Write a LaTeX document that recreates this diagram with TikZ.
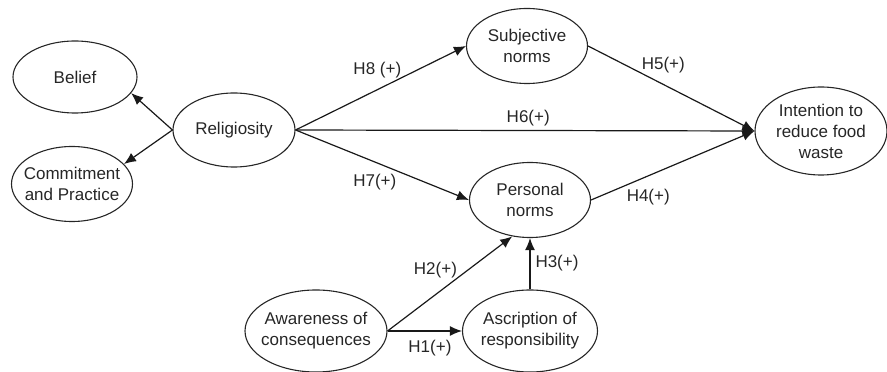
\documentclass[tikz,border=0pt]{standalone}
\usepackage{fontspec}
\setmainfont{Liberation Sans}
\usepackage{tikz}
\usetikzlibrary{arrows.meta,positioning,shapes.geometric}

\begin{document}
\begin{tikzpicture}[x=1pt,y=1pt,
  var/.style={ellipse,draw=black!85,line width=1.1pt,inner xsep=-9pt,inner ysep=0pt,
    minimum width=121pt,minimum height=75pt,align=center,text=black!85,
    font=\fontsize{17}{21}\selectfont},
  link/.style={-{Latex[length=12pt,width=10pt]},line width=1.2pt,draw=black!90},
  hyp/.style={font=\fontsize{17}{20}\selectfont,text=black!85,inner sep=1pt}
]
\useasboundingbox (0,0) rectangle (887,372);
\node[var,minimum width=124pt,minimum height=72pt] (belief) at (75,295) {Belief};
\node[var] (commit) at (72,188) {Commitment\\and Practice};
\node[var,minimum width=122pt,minimum height=74pt] (relig) at (234,242) {Religiosity};
\node[var] (subj) at (527,326) {Subjective\\norms};
\node[var] (pers) at (530,172) {Personal\\norms};
\node[var,minimum width=132pt,minimum height=88pt] (intent) at (821,241) {Intention to\\reduce food\\waste};
\node[var,minimum width=142pt,minimum height=82pt] (aware) at (316,41) {Awareness of\\consequences};
\node[var,minimum width=135pt,minimum height=82pt] (ascr) at (530,41) {Ascription of\\responsibility};
% dimensions of religiosity
\draw[link] (relig.west)--(belief.-16);
\draw[link] (relig.west)--(commit.21);
% hypotheses
\draw[link] (relig.east)--(subj.west) node[hyp,pos=0.48,yshift=20pt] (h8) {H8 (+)};
\draw[link] (relig.east)--(intent.west) node[hyp,pos=0.507,yshift=12pt] (h6) {H6(+)};
\draw[link] (relig.east)--(pers.west) node[hyp,pos=0.457,yshift=-20pt] (h7) {H7(+)};
\draw[link] (subj.east)--(intent.west) node[hyp,pos=0.452,yshift=19pt] (h5) {H5(+)};
\draw[link] (pers.east)--(intent.west) node[hyp,pos=0.35,yshift=-21pt] (h4) {H4(+)};
\draw[link] (aware.east)--(pers.244) node[hyp,pos=0.384,yshift=25pt] (h2) {H2(+)};
\draw[link] (aware.east)--(ascr.west) node[hyp,pos=0.57,yshift=-17pt] (h1) {H1(+)};
\draw[link] (ascr.north)--(pers.south) node[hyp,pos=0.51,xshift=27pt] (h3) {H3(+)};
\end{tikzpicture}
\end{document}
